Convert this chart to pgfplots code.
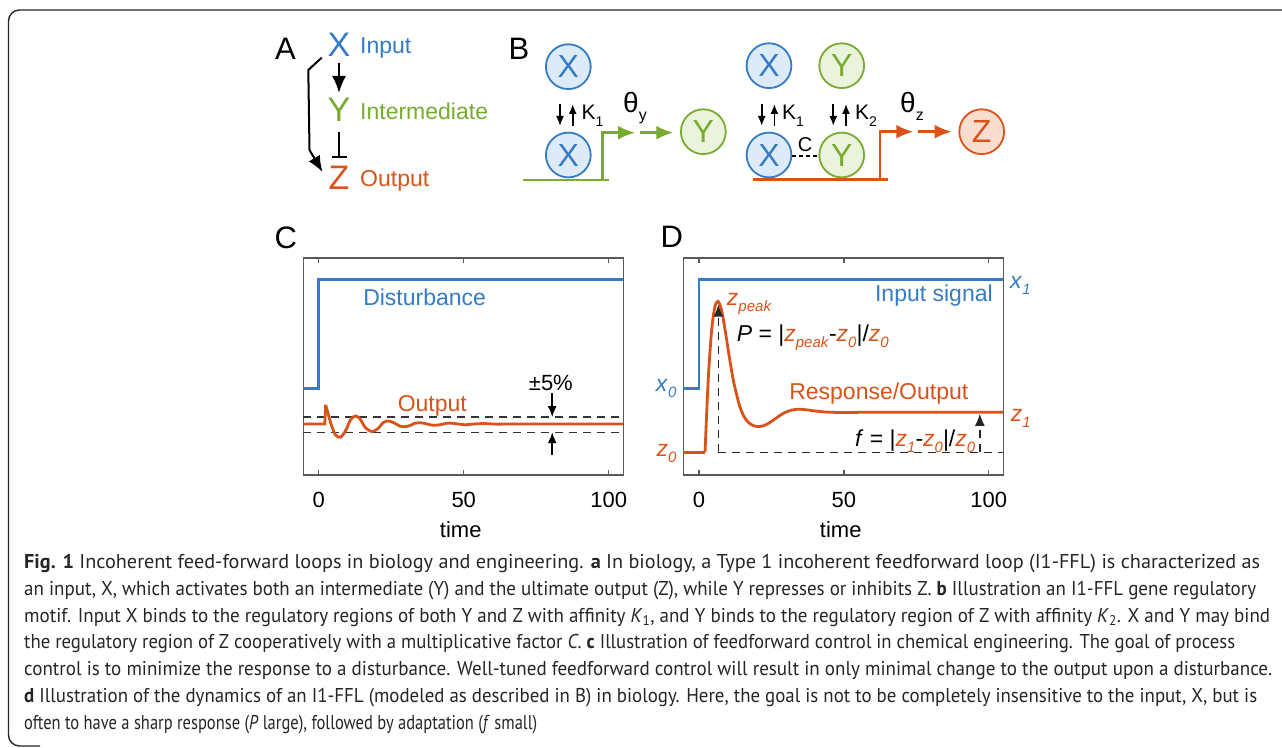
\documentclass[border=0pt]{standalone}
\usepackage{fontspec}
\setmainfont{Liberation Sans}
\newfontfamily\capfont{PT Sans}
\usepackage{graphicx}
\usepackage{pgfplots}
\pgfplotsset{compat=1.18}
\usetikzlibrary{arrows.meta}
\definecolor{cblue}{RGB}{52,124,196}
\definecolor{cgreen}{RGB}{119,172,48}
\definecolor{corange}{RGB}{217,83,25}
\definecolor{fblue}{RGB}{221,234,248}
\definecolor{fgreen}{RGB}{235,243,220}
\definecolor{forange}{RGB}{251,220,208}
\newcommand\fs[1]{\fontsize{#1}{#1}\selectfont}
\newcommand\sub[1]{\raisebox{-6pt}{\fs{15}#1}}
\newcommand\capA{\textbf{Fig. 1} Incoherent feed-forward loops in biology and engineering. \textbf{a} In biology, a Type 1 incoherent feedforward loop (I1-FFL) is characterized as}
\newcommand\capB{an input, X, which activates both an intermediate (Y) and the ultimate output (Z), while Y represses or inhibits Z. \textbf{b} Illustration an I1-FFL gene regulatory}
\newcommand\capC{motif. Input X binds to the regulatory regions of both Y and Z with affinity \textit{K}\textsubscript{1}, and Y binds to the regulatory region of Z with affinity \textit{K}\textsubscript{2}. X and Y may bind}
\newcommand\capD{the regulatory region of Z cooperatively with a multiplicative factor \textit{C}. \textbf{c} Illustration of feedforward control in chemical engineering. The goal of process}
\newcommand\capE{control is to minimize the response to a disturbance. Well-tuned feedforward control will result in only minimal change to the output upon a disturbance.}
\newcommand\capF{\textbf{d} Illustration of the dynamics of an I1-FFL (modeled as described in B) in biology. Here, the goal is not to be completely insensitive to the input, X, but is}
\newcommand\capG{often to have a sharp response (\textit{P} large), followed by adaptation (\textit{f} small)}
\newlength\capw
\newcommand\mkcap[2]{% #1 letter, #2 target width
  \settowidth\capw{\capfont\fs{20}\csname cap#1\endcsname}%
  \pgfmathsetmacro\tmpsx{#2/\capw}%
  \expandafter\xdef\csname sx#1\endcsname{\tmpsx}%
}
\AtBeginDocument{%
  \mkcap{A}{1236}%
  \mkcap{B}{1232}%
  \mkcap{C}{1246}%
  \mkcap{D}{1211}%
  \mkcap{E}{1248}%
  \mkcap{F}{1233}%
  \mkcap{G}{513}%
}
\newcommand\capline[2]{%
  \node[anchor=base west, inner sep=0pt, text=black!85] at (24,#2) {\scalebox{\csname sx#1\endcsname}[1]{\capfont\fs{20}\csname cap#1\endcsname}};%
}
\pgfplotsset{panel/.style={scale only axis, width=320pt, height=217pt, anchor=south west,
  xmax=105, ymin=0, ymax=1, xtick={0,50,100}, ytick=\empty,
  axis line style={black!65, line width=1.3pt}, major tick length=5pt,
  xtick style={black!65, line width=1.3pt}, tick align=inside, xtick pos=both,
  /pgf/number format/assume math mode=true,
  xticklabel style={font=\fs{22}, anchor=center, yshift=-25pt},
  clip=false, xlabel={time},
  xlabel style={font=\fs{22}, at={(axis description cs:0.492,-0.288)}, anchor=base}}}
\begin{document}
\begin{tikzpicture}
\useasboundingbox (0,0) rectangle (1282pt,747pt);
\fill[white] (0,0) rectangle (1282pt,747pt);
% ---------------- Panel C
\begin{axis}[panel, at={(303.3pt,272pt)}, xmin=-5.3]
\addplot[cblue, line width=2.8pt, line join=miter] coordinates {(-5.3,0.40)(0,0.40)(0,0.90)(105,0.90)};
\addplot[black!80, line width=1.4pt, dash pattern=on 8pt off 6pt] coordinates {(-5.3,0.267)(105,0.267)};
\addplot[black!80, line width=1.4pt, dash pattern=on 8pt off 6pt] coordinates {(-5.3,0.197)(105,0.197)};
\addplot[corange, line width=2.8pt, line join=miter] coordinates {(-5.3,0.235)(2.1,0.235)(2.4,0.323)};
\addplot[corange, line width=2.8pt, smooth, tension=0.5] coordinates {(2.4,0.323)(3.3,0.28)(4.5,0.225)(5.8,0.185)(7.5,0.174)(9.3,0.205)(11,0.255)(12.7,0.272)(14.3,0.258)(16,0.22)(18.4,0.20)(20.5,0.215)(22.3,0.242)(24.1,0.249)(26,0.24)(28,0.225)(29.3,0.222)(31.5,0.228)(33,0.238)(34.5,0.241)(36.5,0.238)(38.5,0.231)(40,0.229)(42,0.232)(44,0.238)(45.4,0.239)(47.5,0.236)(50,0.232)(51,0.232)(53.5,0.235)(56.5,0.237)(59,0.236)(62,0.234)(66,0.235)(105,0.235)};
\draw[black, line width=1.6pt, -{Latex[length=11pt,width=9pt]}] (axis cs:80.5,0.376) -- (axis cs:80.5,0.267);
\draw[black, line width=1.6pt, -{Latex[length=11pt,width=9pt]}] (axis cs:80.5,0.092) -- (axis cs:80.5,0.197);
\node[anchor=base west, inner sep=0pt, text=cblue, font=\fs{23}] at (axis cs:15.3,0.783) {Disturbance};
\node[anchor=base west, inner sep=0pt, text=corange, font=\fs{23}] at (axis cs:27.2,0.292) {Output};
\node[anchor=base west, inner sep=0pt, font=\fs{22}] at (axis cs:72.4,0.389) {±5\%};
\end{axis}
% ---------------- Panel D
\begin{axis}[panel, at={(683.3pt,272pt)}, xmin=-5.4]
\addplot[cblue, line width=2.8pt, line join=miter] coordinates {(-5.4,0.40)(0,0.40)(0,0.90)(105,0.90)};
\addplot[black!85, line width=1.4pt, dash pattern=on 8pt off 6pt] coordinates {(6.7,0.105)(105,0.105)};
\addplot[corange, line width=2.8pt, line join=miter] coordinates {(-5.4,0.105)(2.1,0.105)};
\addplot[corange, line width=2.8pt, smooth, tension=0.5] coordinates {(2.1,0.105)(3.2,0.44)(4.4,0.67)(5.5,0.775)(6.6,0.80)(7.8,0.76)(9,0.67)(10.4,0.55)(11.8,0.44)(13,0.37)(14.1,0.315)(15.5,0.27)(17,0.243)(18.7,0.228)(20.4,0.223)(22.2,0.227)(24,0.238)(26,0.256)(28,0.275)(30,0.29)(32,0.299)(34,0.303)(36,0.302)(38,0.299)(40,0.295)(44,0.29)(50,0.288)(60,0.289)(105,0.289)};
\draw[black!85, line width=1.4pt, dash pattern=on 8pt off 6pt, -{Latex[length=12pt,width=10pt]}] (axis cs:6.7,0.105) -- (axis cs:6.7,0.785);
\draw[black!85, line width=1.4pt, dash pattern=on 8pt off 6pt, -{Latex[length=12pt,width=10pt]}] (axis cs:96.9,0.105) -- (axis cs:96.9,0.282);
\node[anchor=base west, inner sep=0pt, text=cblue, font=\fs{23}] at (axis cs:60.7,0.799) {Input signal};
\node[anchor=base west, inner sep=0pt, text=corange, font=\fs{23}] at (axis cs:31.1,0.346) {Response/Output};
\node[anchor=base west, inner sep=0pt, text=cblue, font=\fs{23}] at (axis cs:107.3,0.860) {\textit{x}\sub{\textit{1}}};
\node[anchor=base east, inner sep=0pt, text=cblue, font=\fs{23}] at (axis cs:-7.7,0.384) {\textit{x}\sub{\textit{0}}};
\node[anchor=base east, inner sep=0pt, text=corange, font=\fs{23}] at (axis cs:-7.7,0.084) {\textit{z}\sub{\textit{0}}};
\node[anchor=base west, inner sep=0pt, text=corange, font=\fs{23}] at (axis cs:107.5,0.246) {\textit{z}\sub{\textit{1}}};
\node[anchor=base west, inner sep=0pt, text=corange, font=\fs{23}] at (axis cs:9.6,0.783) {\textit{z}\sub{\textit{peak}}};
\node[anchor=base west, inner sep=0pt, font=\fs{23}] at (axis cs:13.0,0.614) {\textit{P} = |\textcolor{corange}{\textit{z}\sub{\textit{peak}}}-\textcolor{corange}{\textit{z}\sub{\textit{0}}}|/\textcolor{corange}{\textit{z}\sub{\textit{0}}}};
\node[anchor=base west, inner sep=0pt, font=\fs{23}] at (axis cs:53.8,0.130) {\textit{f} = |\textcolor{corange}{\textit{z}\sub{\textit{1}}}-\textcolor{corange}{\textit{z}\sub{\textit{0}}}|/\textcolor{corange}{\textit{z}\sub{\textit{0}}}};
\end{axis}
% ---------------- Drawings and caption (y downward, pixel units)
\begin{scope}[x=1pt, y=-1pt, shift={(0pt,747pt)}]
\draw[black!85, line width=1.4pt, rounded corners=11pt] (1282,10) -- (8.5,10) -- (8.5,746) -- (40,746);
% panel letters
\node[anchor=base, font=\fs{31}] at (285.5,60) {A};
\node[anchor=base, font=\fs{31}] at (519,60) {B};
\node[anchor=base, font=\fs{31}] at (285.8,248.3) {C};
\node[anchor=base, font=\fs{31}] at (671.7,248) {D};
% panel A
\node[anchor=base, font=\fs{34}, text=cblue] at (339,57) {X};
\node[anchor=base west, font=\fs{23}, text=cblue, inner sep=0pt] at (360,54) {Input};
\node[anchor=base, font=\fs{34}, text=cgreen] at (339,122) {Y};
\node[anchor=base west, font=\fs{23}, text=cgreen, inner sep=0pt] at (360,120) {Intermediate};
\node[anchor=base, font=\fs{34}, text=corange] at (339,190) {Z};
\node[anchor=base west, font=\fs{23}, text=corange, inner sep=0pt] at (360,187) {Output};
\draw[line width=2pt, -{Latex[length=17pt,width=14pt]}] (339,63) -- (339,93);
\draw[line width=2pt] (339,132) -- (339,157);
\draw[line width=2pt] (331.5,157) -- (346.5,157);
\draw[line width=2pt, line join=round, -{Latex[length=16pt,width=13pt]}] (321.7,57.7) -- (308.3,70) -- (309.5,150) -- (322.5,172);
% panel B circles
\foreach \cx/\cy/\lt/\cc/\cf in {568.3/66.7/X/cblue/fblue, 568.3/155/X/cblue/fblue, 703.3/131.7/Y/cgreen/fgreen, 769/65.7/X/cblue/fblue, 841.7/65.7/Y/cgreen/fgreen, 769/155/X/cblue/fblue, 841.7/155/Y/cgreen/fgreen, 981.7/131.7/Z/corange/forange}{
  \draw[\cc, fill=\cf, line width=1.8pt] (\cx,\cy) circle[radius=22.4];
  \node[text=\cc, font=\fs{32}] at (\cx,\cy) {\lt};
}
% binding arrows
\foreach \ax in {560,761.7,833.3}{
  \draw[line width=1.7pt, -{Latex[length=10pt,width=8pt]}] (\ax,104) -- (\ax,126);
  \draw[line width=1.7pt, -{Latex[length=10pt,width=8pt]}] (\ax+12.7,126) -- (\ax+12.7,104);
}
\node[anchor=base west, inner sep=0pt, font=\fs{21}] at (581.5,120) {K\raisebox{-7pt}{\fs{14}1}};
\node[anchor=base west, inner sep=0pt, font=\fs{21}] at (782,120) {K\raisebox{-7pt}{\fs{14}1}};
\node[anchor=base west, inner sep=0pt, font=\fs{21}] at (855,120) {K\raisebox{-7pt}{\fs{14}2}};
% promoter green
\draw[cgreen, line width=2.5pt] (523.3,180) -- (609.3,180);
\draw[cgreen, line width=2.5pt, line join=miter, -{Latex[length=17pt,width=14pt]}] (602.3,180) -- (602.3,132.7) -- (635,132.7);
\draw[cgreen, line width=2.5pt, -{Latex[length=17pt,width=14pt]}] (640,132.7) -- (673.3,132.7);
\node[anchor=base west, inner sep=0pt, font=\fs{28}] at (623,113) {θ\raisebox{-8pt}{\fs{16}y}};
% promoter orange
\draw[corange, line width=2.5pt] (753.3,179.3) -- (888.3,179.3);
\draw[corange, line width=2.5pt, line join=miter, -{Latex[length=17pt,width=14pt]}] (880,179.3) -- (880,131.7) -- (913.3,131.7);
\draw[corange, line width=2.5pt, -{Latex[length=17pt,width=14pt]}] (918.3,131.7) -- (951.7,131.7);
\node[anchor=base west, inner sep=0pt, font=\fs{28}] at (900,113) {θ\raisebox{-8pt}{\fs{16}z}};
\draw[black, line width=2pt, dash pattern=on 4pt off 3pt] (791.7,156) -- (818.3,156);
\node[anchor=base, font=\fs{20}] at (805,152) {C};
% caption
\capline{A}{569}
\capline{B}{596}
\capline{C}{622.5}
\capline{D}{649}
\capline{E}{676}
\capline{F}{702.5}
\capline{G}{729}
\end{scope}
\end{tikzpicture}
\end{document}
